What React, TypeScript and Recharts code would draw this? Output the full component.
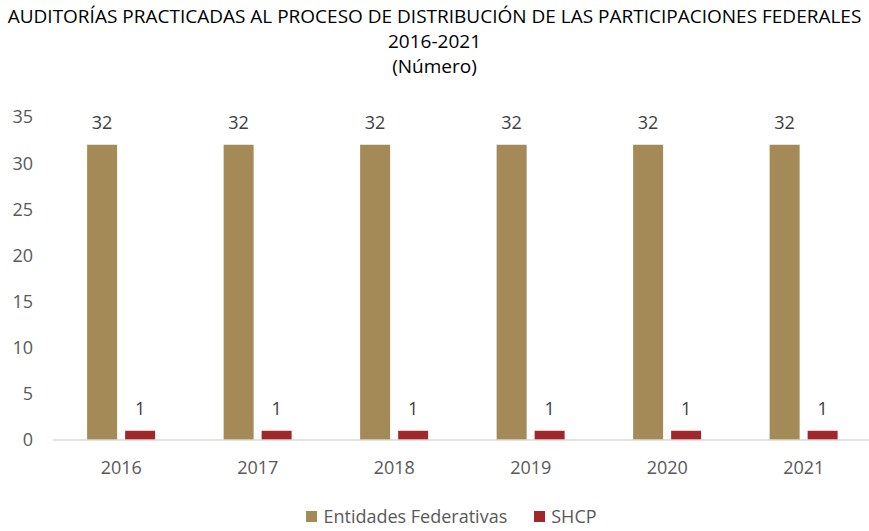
import React from "react";
import { BarChart, Bar, XAxis, YAxis, LabelList } from "recharts";

const years = ["2016", "2017", "2018", "2019", "2020", "2021"];
const entidades = [32, 32, 32, 32, 32, 32];
const shcp = [1, 1, 1, 1, 1, 1];
const yTicks = [0, 5, 10, 15, 20, 25, 30, 35];

const GOLD = "#A48A56";
const RED = "#A0282B";
const FONT = "'Open Sans', 'Noto Sans', sans-serif";

const data = years.map((y, i) => ({ year: y, entidades: entidades[i], shcp: shcp[i] }));

const LegendBox = () => (
  <div
    style={{
      position: "absolute",
      top: 504,
      left: 0,
      width: 869,
      display: "flex",
      justifyContent: "center",
      alignItems: "center",
      fontFamily: FONT,
      fontSize: 18,
      lineHeight: "24px",
      color: "#595959",
      paddingLeft: 34,
      boxSizing: "border-box",
    }}
  >
    <span style={{ width: 11, height: 11, background: GOLD, display: "inline-block", marginRight: 6 }} />
    <span>Entidades Federativas</span>
    <span style={{ width: 11, height: 11, background: RED, display: "inline-block", marginLeft: 27, marginRight: 6 }} />
    <span>SHCP</span>
  </div>
);

export default function App() {
  return (
    <div style={{ position: "relative", width: 869, height: 531, background: "#fff" }}>
      <style>{`html,body{margin:0;padding:0;}`}</style>
      <div
        style={{
          position: "absolute",
          top: 4,
          left: 0,
          width: 869,
          textAlign: "center",
          fontFamily: FONT,
          fontSize: 19,
          lineHeight: "25px",
          color: "#000",
          whiteSpace: "nowrap",
          zIndex: 2,
        }}
      >
        <div>AUDITORÍAS PRACTICADAS AL PROCESO DE DISTRIBUCIÓN DE LAS PARTICIPACIONES FEDERALES</div>
        <div>2016-2021</div>
        <div>(Número)</div>
      </div>
      <div style={{ position: "absolute", top: 0, left: 0 }}>
        <BarChart
          width={869}
          height={531}
          data={data}
          margin={{ top: 117, right: -3, left: 13, bottom: 51 }}
          barCategoryGap="25%"
          barGap={8}
        >
          <XAxis
            dataKey="year"
            axisLine={{ stroke: "#D9D9D9", strokeWidth: 1.5 }}
            tickLine={false}
            tickMargin={15}
            tick={{ fill: "#595959", fontSize: 18, fontFamily: FONT }}
            height={40}
          />
          <YAxis
            domain={[0, 35]}
            ticks={yTicks}
            axisLine={false}
            tickLine={false}
            tickMargin={14}
            width={40}
            interval={0}
            tick={{ fill: "#595959", fontSize: 18, fontFamily: FONT }}
          />
          <Bar dataKey="entidades" fill={GOLD} isAnimationActive={false}>
            <LabelList dataKey="entidades" position="top" offset={16} style={{ fill: "#404040", fontSize: 18, fontFamily: FONT }} />
          </Bar>
          <Bar dataKey="shcp" fill={RED} isAnimationActive={false}>
            <LabelList dataKey="shcp" position="top" offset={16} style={{ fill: "#404040", fontSize: 18, fontFamily: FONT }} />
          </Bar>
        </BarChart>
      </div>
      <LegendBox />
    </div>
  );
}
